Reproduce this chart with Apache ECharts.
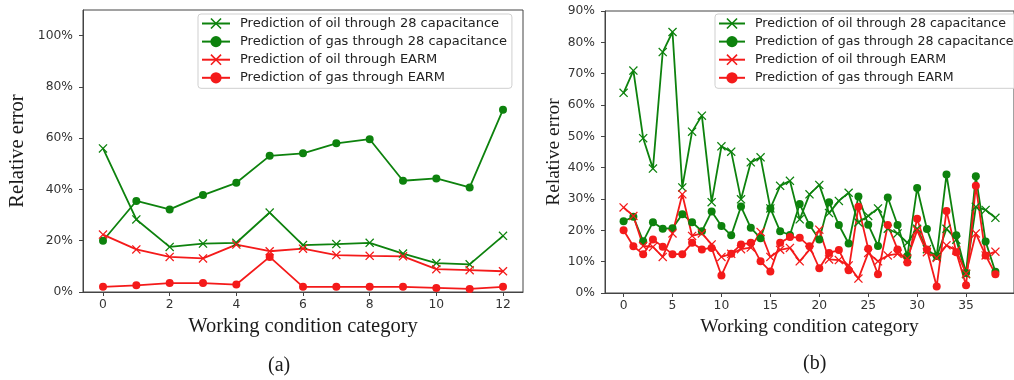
<!DOCTYPE html>
<html>
<head>
<meta charset="utf-8">
<script src="https://cdn.jsdelivr.net/npm/echarts@6/dist/echarts.min.js"></script>
<style>
html,body{margin:0;padding:0;background:#fff;}
#chart{width:1014px;height:380px;}
</style>
</head>
<body>
<div id="chart"></div>
<script>
// (a) working conditions 0..12, relative error in %
var condA = [0,1,2,3,4,5,6,7,8,9,10,11,12];
var oilCapA  = [56, 28.3, 17.6, 18.9, 19.2, 31.0, 18.3, 18.7, 19.2, 15.0, 11.3, 10.8, 21.9];
var gasCapA  = [20, 35.5, 32.2, 37.8, 42.6, 53.1, 54.1, 58.0, 59.6, 43.4, 44.3, 40.8, 71.1];
var oilEarmA = [22.4, 16.6, 13.7, 13.1, 18.5, 15.9, 16.9, 14.4, 14.1, 13.9, 8.9, 8.5, 8.1];
var gasEarmA = [2.0, 2.6, 3.5, 3.5, 2.9, 13.7, 2.0, 2.0, 2.0, 2.0, 1.6, 1.2, 2.0];

// (b) working conditions 0..38
var condB = [0,1,2,3,4,5,6,7,8,9,10,11,12,13,14,15,16,17,18,19,20,21,22,23,24,25,26,27,28,29,30,31,32,33,34,35,36,37,38];
var oilCapB  = [63.9, 71.0, 49.4, 39.7, 76.9, 83.3, 33.7, 51.5, 56.6, 29.0, 46.8, 45.1, 29.9, 41.7, 43.3,
                27.0, 34.2, 35.8, 23.5, 31.5, 34.5, 25.5, 29.4, 32.0, 22.5, 24.6, 27.0,
                20.5, 19.0, 16.0, 20.5, 14.0, 11.5, 20.5, 17.0, 6.0, 27.5, 26.5, 24.0];
var gasCapB  = [22.9, 24.3, 16.5, 22.6, 20.5, 20.7, 25.1, 22.6, 19.7, 26.0, 21.4, 18.4, 27.6, 20.8, 17.5,
                27.0, 19.7, 18.5, 28.4, 21.7, 17.1, 29.0, 21.7, 15.8, 30.8, 21.8, 15.0,
                30.5, 21.7, 11.8, 33.5, 20.4, 11.8, 37.8, 18.4, 6.4, 37.3, 16.4, 6.8];
var oilEarmB = [27.3, 24.6, 15.0, 14.7, 11.5, 19.0, 31.5, 18.2, 19.0, 15.5, 11.5, 12.5, 14.0, 14.5, 19.5,
                11.5, 13.8, 14.4, 10.1, 13.8, 20.2, 10.7, 10.5, 8.8, 4.6, 12.8, 10.1,
                12.0, 12.5, 11.0, 20.0, 13.0, 11.2, 15.2, 13.6, 6.2, 19.0, 12.0, 13.2];
var gasEarmB = [20.0, 14.9, 12.4, 17.1, 14.8, 12.4, 12.4, 16.0, 13.9, 14.4, 5.6, 12.5, 15.5, 16.0, 10.1,
                6.9, 16.0, 17.9, 17.6, 14.9, 7.9, 12.8, 13.7, 7.3, 27.5, 14.1, 6.0,
                21.7, 13.9, 9.7, 23.7, 13.9, 2.1, 26.2, 13.0, 2.5, 34.2, 12.0, 6.0];

var ticksAX = [0,2,4,6,8,10,12];
var ticksAY = [0,20,40,60,80,100];
var ticksBX = [0,5,10,15,20,25,30,35];
var ticksBY = [0,10,20,30,40,50,60,70,80,90];

var names = ['Prediction of oil through 28 capacitance','Prediction of gas through 28 capacitance',
             'Prediction of oil through EARM','Prediction of gas through EARM'];

var GREEN = '#0d820d', RED = '#f41a1a';
var XMARK = 'path://M0,1L1,0L5,4L9,0L10,1L6,5L10,9L9,10L5,6L1,10L0,9L4,5Z';
var sansFont = 'DejaVu Sans', serifFont = 'Liberation Serif';

function pairs(xs, ys){ return xs.map(function(x,i){ return [x, ys[i]]; }); }

function mkSeries(name, xs, ys, color, cross, idx){
  return {
    name: name, type: 'line', xAxisIndex: idx, yAxisIndex: idx,
    data: pairs(xs, ys),
    symbol: cross ? XMARK : 'circle',
    symbolSize: cross ? 9 : 8,
    lineStyle: {color: color, width: 1.8},
    itemStyle: {color: color},
    emphasis: {disabled: true}
  };
}

function xAxisOf(idx, min, max, ticks, fs){
  return {
    type: 'value', gridIndex: idx, min: min, max: max,
    name: 'Working condition category', nameLocation: 'middle', nameGap: 24,
    nameTextStyle: {fontFamily: serifFont, fontSize: fs, color: '#1a1a1a'},
    axisLine: {onZero: false, lineStyle: {color: '#444'}},
    axisTick: {inside: false, length: 4, lineStyle: {color: '#444'}, customValues: ticks},
    axisLabel: {customValues: ticks, fontFamily: sansFont, fontSize: 12.3, color: '#333', margin: 7},
    splitLine: {show: false}
  };
}
function yAxisOf(idx, max, ticks, gap, fs){
  return {
    type: 'value', gridIndex: idx, min: 0, max: max,
    name: 'Relative error', nameLocation: 'middle', nameGap: gap, nameRotate: 90,
    nameTextStyle: {fontFamily: serifFont, fontSize: fs, color: '#1a1a1a'},
    axisLine: {show: true, onZero: false, lineStyle: {color: '#444'}},
    axisTick: {show: true, inside: false, length: 4, lineStyle: {color: '#444'}, customValues: ticks},
    axisLabel: {customValues: ticks, formatter: '{value}%', fontFamily: sansFont, fontSize: 12.3, color: '#333', margin: 10},
    splitLine: {show: false}
  };
}
function legendOf(left, fs, iw){
  return {
    data: names, orient: 'vertical', left: left, top: 14,
    itemWidth: iw, itemHeight: 14, itemGap: 5.1,
    padding: [3, 5, 4, 3],
    borderColor: '#cfcfcf', borderWidth: 1, borderRadius: 3,
    backgroundColor: 'rgba(255,255,255,0.8)',
    textStyle: {fontFamily: sansFont, fontSize: fs, color: '#222', padding: [0,0,0,5]},
    selectedMode: false
  };
}

var chart = echarts.init(document.getElementById('chart'));
chart.setOption({
  animation: false,
  grid: [
    {left: 83, top: 10, width: 440, height: 282, show: true, borderColor: '#444', borderWidth: 1},
    {left: 605, top: 11, width: 419, height: 282, show: true, borderColor: '#444', borderWidth: 1}
  ],
  xAxis: [xAxisOf(0, -0.6, 12.6, ticksAX, 20.5), xAxisOf(1, -1.9, 39.9, ticksBX, 19.5)],
  yAxis: [yAxisOf(0, 110, ticksAY, 55, 20.5), yAxisOf(1, 90, ticksBY, 41, 19.5)],
  legend: [legendOf(198, 13, 28), legendOf(715, 12.6, 26)],
  graphic: [
    {type: 'text', left: 268, top: 356, style: {text: '(a)', font: '20px "Liberation Serif"', fill: '#1a1a1a'}},
    {type: 'text', left: 803, top: 354, style: {text: '(b)', font: '20px "Liberation Serif"', fill: '#1a1a1a'}}
  ],
  series: [
    mkSeries(names[0], condA, oilCapA, GREEN, true, 0),
    mkSeries(names[1], condA, gasCapA, GREEN, false, 0),
    mkSeries(names[2], condA, oilEarmA, RED, true, 0),
    mkSeries(names[3], condA, gasEarmA, RED, false, 0),
    mkSeries(names[0], condB, oilCapB, GREEN, true, 1),
    mkSeries(names[1], condB, gasCapB, GREEN, false, 1),
    mkSeries(names[2], condB, oilEarmB, RED, true, 1),
    mkSeries(names[3], condB, gasEarmB, RED, false, 1)
  ]
});
</script>
</body>
</html>
